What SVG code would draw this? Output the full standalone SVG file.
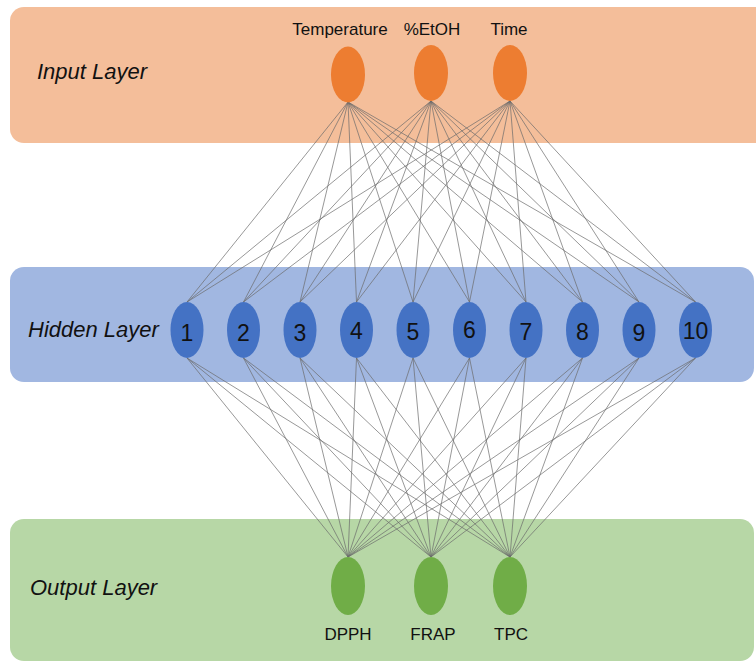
<svg xmlns="http://www.w3.org/2000/svg" width="756" height="663" viewBox="0 0 756 663">
<style>
.lbl{font-family:"Liberation Sans",Arial,sans-serif;font-size:17px;fill:#111;text-anchor:middle}
.layer{font-family:"Liberation Sans",Arial,sans-serif;font-size:22px;font-style:italic;fill:#111}
.num{font-family:"Liberation Sans",Arial,sans-serif;font-size:23px;fill:#111;text-anchor:middle}
.conn line{stroke:#6b6b6b;stroke-width:0.7}
.in{fill:#ED7D31}.hid{fill:#4472C4}.out{fill:#70AD47}
</style>
<rect x="10" y="7" width="760" height="136" rx="14" fill="#F4BE9A"/>
<rect x="10" y="267" width="744" height="115" rx="14" fill="#A1B7E1"/>
<rect x="10" y="519" width="744" height="142" rx="14" fill="#B7D7A6"/>
<text class="layer" x="37" y="79">Input Layer</text>
<text class="layer" x="28" y="337">Hidden Layer</text>
<text class="layer" x="30" y="595">Output Layer</text>
<g class="conn" id="connectors">
<line x1="348" y1="102" x2="187" y2="302"/><line x1="348" y1="102" x2="243.5" y2="302"/><line x1="348" y1="102" x2="300" y2="302"/><line x1="348" y1="102" x2="356.5" y2="302"/><line x1="348" y1="102" x2="413" y2="302"/><line x1="348" y1="102" x2="469.5" y2="302"/><line x1="348" y1="102" x2="526" y2="302"/><line x1="348" y1="102" x2="582.5" y2="302"/><line x1="348" y1="102" x2="639" y2="302"/><line x1="348" y1="102" x2="695.5" y2="302"/>
<line x1="431" y1="101" x2="187" y2="302"/><line x1="431" y1="101" x2="243.5" y2="302"/><line x1="431" y1="101" x2="300" y2="302"/><line x1="431" y1="101" x2="356.5" y2="302"/><line x1="431" y1="101" x2="413" y2="302"/><line x1="431" y1="101" x2="469.5" y2="302"/><line x1="431" y1="101" x2="526" y2="302"/><line x1="431" y1="101" x2="582.5" y2="302"/><line x1="431" y1="101" x2="639" y2="302"/><line x1="431" y1="101" x2="695.5" y2="302"/>
<line x1="510" y1="101" x2="187" y2="302"/><line x1="510" y1="101" x2="243.5" y2="302"/><line x1="510" y1="101" x2="300" y2="302"/><line x1="510" y1="101" x2="356.5" y2="302"/><line x1="510" y1="101" x2="413" y2="302"/><line x1="510" y1="101" x2="469.5" y2="302"/><line x1="510" y1="101" x2="526" y2="302"/><line x1="510" y1="101" x2="582.5" y2="302"/><line x1="510" y1="101" x2="639" y2="302"/><line x1="510" y1="101" x2="695.5" y2="302"/>
<line x1="187" y1="358" x2="348" y2="557"/><line x1="243.5" y1="358" x2="348" y2="557"/><line x1="300" y1="358" x2="348" y2="557"/><line x1="356.5" y1="358" x2="348" y2="557"/><line x1="413" y1="358" x2="348" y2="557"/><line x1="469.5" y1="358" x2="348" y2="557"/><line x1="526" y1="358" x2="348" y2="557"/><line x1="582.5" y1="358" x2="348" y2="557"/><line x1="639" y1="358" x2="348" y2="557"/><line x1="695.5" y1="358" x2="348" y2="557"/>
<line x1="187" y1="358" x2="431" y2="557"/><line x1="243.5" y1="358" x2="431" y2="557"/><line x1="300" y1="358" x2="431" y2="557"/><line x1="356.5" y1="358" x2="431" y2="557"/><line x1="413" y1="358" x2="431" y2="557"/><line x1="469.5" y1="358" x2="431" y2="557"/><line x1="526" y1="358" x2="431" y2="557"/><line x1="582.5" y1="358" x2="431" y2="557"/><line x1="639" y1="358" x2="431" y2="557"/><line x1="695.5" y1="358" x2="431" y2="557"/>
<line x1="187" y1="358" x2="510" y2="557"/><line x1="243.5" y1="358" x2="510" y2="557"/><line x1="300" y1="358" x2="510" y2="557"/><line x1="356.5" y1="358" x2="510" y2="557"/><line x1="413" y1="358" x2="510" y2="557"/><line x1="469.5" y1="358" x2="510" y2="557"/><line x1="526" y1="358" x2="510" y2="557"/><line x1="582.5" y1="358" x2="510" y2="557"/><line x1="639" y1="358" x2="510" y2="557"/><line x1="695.5" y1="358" x2="510" y2="557"/>
</g>
<g id="in-temperature"><ellipse class="in" cx="348" cy="74.5" rx="17" ry="28"/><text class="lbl" x="340" y="35">Temperature</text></g>
<g id="in-etoh"><ellipse class="in" cx="431" cy="73" rx="17" ry="28"/><text class="lbl" x="432" y="35">%EtOH</text></g>
<g id="in-time"><ellipse class="in" cx="510" cy="73" rx="17" ry="28"/><text class="lbl" x="509" y="35">Time</text></g>
<g id="h1"><ellipse class="hid" cx="187" cy="330" rx="16.5" ry="28"/><text class="num" x="187" y="341">1</text></g>
<g id="h2"><ellipse class="hid" cx="243.5" cy="330" rx="16.5" ry="28"/><text class="num" x="243.5" y="341">2</text></g>
<g id="h3"><ellipse class="hid" cx="300" cy="330" rx="16.5" ry="28"/><text class="num" x="300" y="341">3</text></g>
<g id="h4"><ellipse class="hid" cx="356.5" cy="330" rx="16.5" ry="28"/><text class="num" x="356.5" y="339">4</text></g>
<g id="h5"><ellipse class="hid" cx="413" cy="330" rx="16.5" ry="28"/><text class="num" x="413" y="340">5</text></g>
<g id="h6"><ellipse class="hid" cx="469.5" cy="330" rx="16.5" ry="28"/><text class="num" x="469.5" y="338">6</text></g>
<g id="h7"><ellipse class="hid" cx="526" cy="330" rx="16.5" ry="28"/><text class="num" x="526" y="340">7</text></g>
<g id="h8"><ellipse class="hid" cx="582.5" cy="330" rx="16.5" ry="28"/><text class="num" x="582.5" y="340">8</text></g>
<g id="h9"><ellipse class="hid" cx="639" cy="330" rx="16.5" ry="28"/><text class="num" x="639" y="341">9</text></g>
<g id="h10"><ellipse class="hid" cx="695.5" cy="330" rx="16.5" ry="28"/><text class="num" x="695.5" y="339">10</text></g>
<g id="out-dpph"><ellipse class="out" cx="348" cy="586" rx="17" ry="29"/><text class="lbl" x="348" y="640">DPPH</text></g>
<g id="out-frap"><ellipse class="out" cx="431" cy="586" rx="17" ry="29"/><text class="lbl" x="433" y="640">FRAP</text></g>
<g id="out-tpc"><ellipse class="out" cx="510" cy="586" rx="17" ry="29"/><text class="lbl" x="511" y="640">TPC</text></g>
</svg>
